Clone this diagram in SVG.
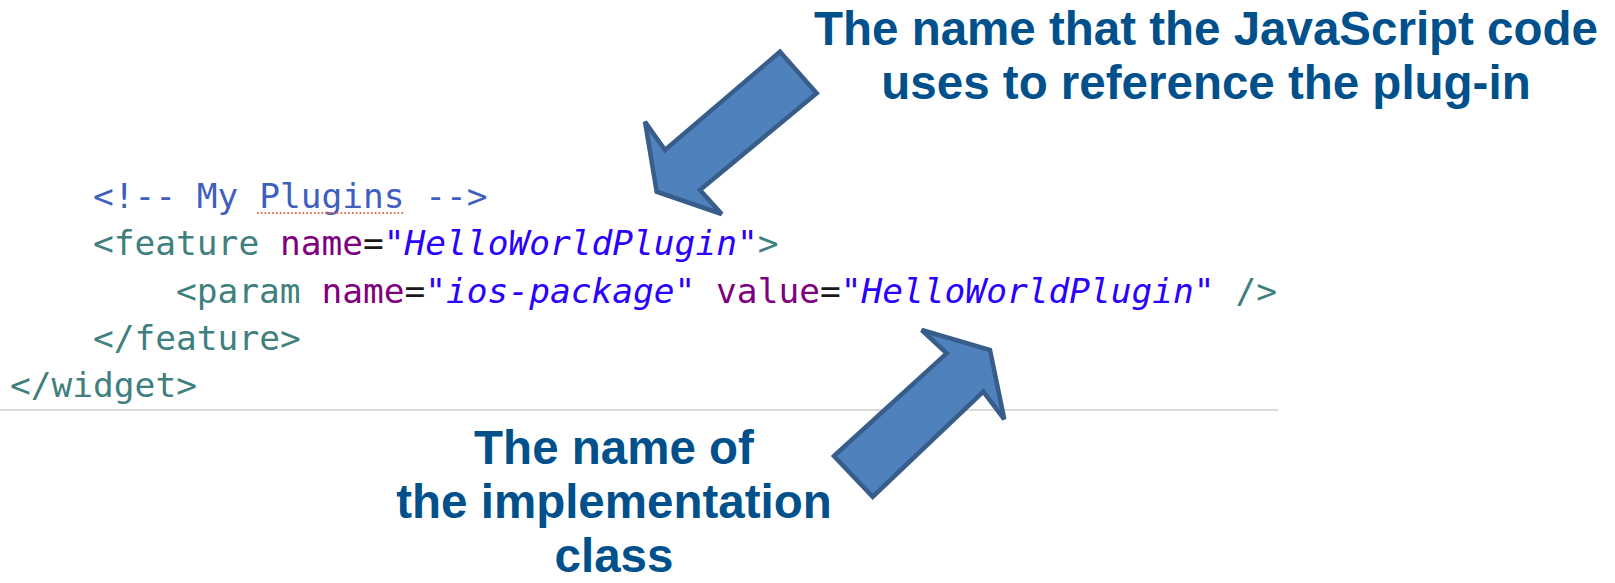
<svg xmlns="http://www.w3.org/2000/svg" width="1615" height="583" viewBox="0 0 1615 583">
  <style>
    .code { font-family: "DejaVu Sans Mono", "Liberation Mono", monospace; font-size: 34.5px; }
    .cmt { fill: #3F5FBF; }
    .tag { fill: #3F7F7F; }
    .att { fill: #7F007F; }
    .eq { fill: #1a1a1a; }
    .val { fill: #2A00FF; font-style: italic; }
    .label { font-family: "Liberation Sans", Arial, sans-serif; font-weight: bold; font-size: 47.5px; fill: #00508C; text-anchor: middle; }
    .arrow { fill: #4F81BD; stroke: #385D8A; stroke-width: 4.5; stroke-linejoin: miter; }
  </style>

  <rect width="1615" height="583" fill="#ffffff"/>

  <!-- config.xml excerpt -->
  <g id="code" class="code" xml:space="preserve">
    <text x="93" y="208" class="cmt">&lt;!-- My Plugins --&gt;</text>
    <line x1="257" y1="213" x2="405" y2="213" stroke="#E8663C" stroke-width="2" stroke-dasharray="1.6 2.2"/>
    <text x="93" y="255"><tspan class="tag">&lt;feature</tspan> <tspan class="att">name</tspan><tspan class="eq">=</tspan><tspan class="val">"HelloWorldPlugin"</tspan><tspan class="tag">&gt;</tspan></text>
    <text x="176" y="303"><tspan class="tag">&lt;param</tspan> <tspan class="att">name</tspan><tspan class="eq">=</tspan><tspan class="val">"ios-package"</tspan> <tspan class="att">value</tspan><tspan class="eq">=</tspan><tspan class="val">"HelloWorldPlugin"</tspan> <tspan class="tag">/&gt;</tspan></text>
    <text x="93" y="350" class="tag">&lt;/feature&gt;</text>
    <text x="10" y="397" class="tag">&lt;/widget&gt;</text>
  </g>

  <!-- editor divider -->
  <line id="divider" x1="0" y1="410" x2="1278" y2="410" stroke="#DADADA" stroke-width="2"/>

  <g id="label-js-name" class="label">
    <text x="1206" y="45">The name that the JavaScript code</text>
    <text x="1206" y="99">uses to reference the plug-in</text>
  </g>

  <g id="label-impl-class" class="label">
    <text x="614" y="464">The name of</text>
    <text x="614" y="518">the implementation</text>
    <text x="614" y="572">class</text>
  </g>

  <g id="connectors">
    <polygon id="arrow-feature-name" class="arrow" points="780,51.7 816.7,93.3 700,190 721.7,214 656.7,191.7 645,121.7 665,150"/>
    <polygon id="arrow-package-value" class="arrow" points="834,456 946.7,353.3 921.7,330 990,350 1004.3,419.3 983.3,391.7 872.7,496.7"/>
  </g>
</svg>
